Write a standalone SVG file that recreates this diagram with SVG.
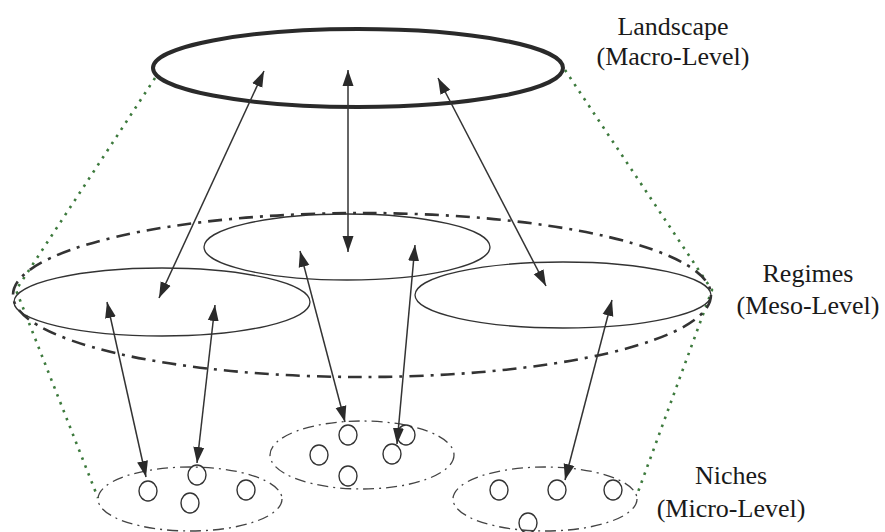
<svg xmlns="http://www.w3.org/2000/svg" width="885" height="532" viewBox="0 0 885 532">
  <style>
    .label { font-family: "Liberation Serif", "Times New Roman", serif; font-size: 26px; fill: #1a1a1a; text-anchor: middle; }
    .guide { fill: none; stroke: #3d7a3d; stroke-width: 2.6; stroke-dasharray: 2.5 6; }
    .macro { fill: none; stroke: #2a2a2a; stroke-width: 4; }
    .meso-band { fill: none; stroke: #333; stroke-width: 2.6; stroke-dasharray: 14 7 3 7; }
    .regime { fill: none; stroke: #333; stroke-width: 1.3; }
    .niche { fill: none; stroke: #444; stroke-width: 1.3; stroke-dasharray: 11 5 2 5; }
    .actor { fill: none; stroke: #333; stroke-width: 1.4; }
    .link { fill: none; stroke: #333; stroke-width: 1.5; marker-start: url(#head); marker-end: url(#head); }
  </style>
  <defs>
    <marker id="head" markerUnits="userSpaceOnUse" markerWidth="16" markerHeight="12" refX="16" refY="6" orient="auto-start-reverse">
      <path d="M0,0.5 L16,6 L0,11.5 z" fill="#2a2a2a"/>
    </marker>
  </defs>
  <rect width="885" height="532" fill="#ffffff"/>

  <!-- projection guides between levels -->
  <g id="guides">
    <path class="guide" d="M155,78 L16,290 L98,498"/>
    <path class="guide" d="M565,70 L712,290 L638,492"/>
  </g>

  <!-- macro level -->
  <g id="landscape">
    <ellipse class="macro" cx="358" cy="68" rx="205" ry="39"/>
    <text class="label" x="673" y="35">Landscape</text>
    <text class="label" x="673" y="65">(Macro-Level)</text>
  </g>

  <!-- meso level -->
  <g id="regimes">
    <ellipse class="meso-band" cx="362" cy="295" rx="349" ry="82"/>
    <text class="label" x="808" y="282">Regimes</text>
    <text class="label" x="808" y="314">(Meso-Level)</text>
  </g>
  <g id="regime-left">
    <ellipse class="regime" cx="162" cy="302" rx="148" ry="34"/>
  </g>
  <g id="regime-center">
    <ellipse class="regime" cx="347" cy="247" rx="143" ry="33"/>
  </g>
  <g id="regime-right">
    <ellipse class="regime" cx="563" cy="295" rx="148" ry="33"/>
  </g>

  <!-- micro level -->
  <g id="niche-left">
    <ellipse class="niche" cx="190" cy="499" rx="92" ry="32"/>
    <ellipse class="actor" cx="148" cy="491" rx="9" ry="10"/>
    <ellipse class="actor" cx="197" cy="475" rx="9" ry="10"/>
    <ellipse class="actor" cx="190" cy="503" rx="9" ry="10"/>
    <ellipse class="actor" cx="246" cy="490" rx="9" ry="10"/>
  </g>
  <g id="niche-center">
    <ellipse class="niche" cx="362" cy="455" rx="92" ry="34"/>
    <ellipse class="actor" cx="348" cy="435" rx="9" ry="10"/>
    <ellipse class="actor" cx="319" cy="455" rx="9" ry="10"/>
    <ellipse class="actor" cx="392" cy="454" rx="9" ry="10"/>
    <ellipse class="actor" cx="406" cy="435" rx="9" ry="10"/>
    <ellipse class="actor" cx="348" cy="476" rx="9" ry="10"/>
  </g>
  <g id="niche-right">
    <ellipse class="niche" cx="545" cy="499" rx="92" ry="32"/>
    <ellipse class="actor" cx="499" cy="490" rx="9" ry="10"/>
    <ellipse class="actor" cx="557" cy="490" rx="9" ry="10"/>
    <ellipse class="actor" cx="613" cy="490" rx="9" ry="10"/>
    <ellipse class="actor" cx="528" cy="523" rx="9" ry="10"/>
    <text class="label" x="731" y="484">Niches</text>
    <text class="label" x="731" y="517">(Micro-Level)</text>
  </g>

  <!-- two-way interactions between levels -->
  <g id="connectors">
    <line class="link" x1="264" y1="71" x2="159" y2="298"/>
    <line class="link" x1="348" y1="70" x2="348" y2="252"/>
    <line class="link" x1="438" y1="78" x2="546" y2="286"/>
    <line class="link" x1="107" y1="302" x2="146" y2="477"/>
    <line class="link" x1="215" y1="305" x2="197" y2="463"/>
    <line class="link" x1="300" y1="251" x2="345" y2="422"/>
    <line class="link" x1="415" y1="245" x2="397" y2="444"/>
    <line class="link" x1="612" y1="300" x2="565" y2="480"/>
  </g>
</svg>
